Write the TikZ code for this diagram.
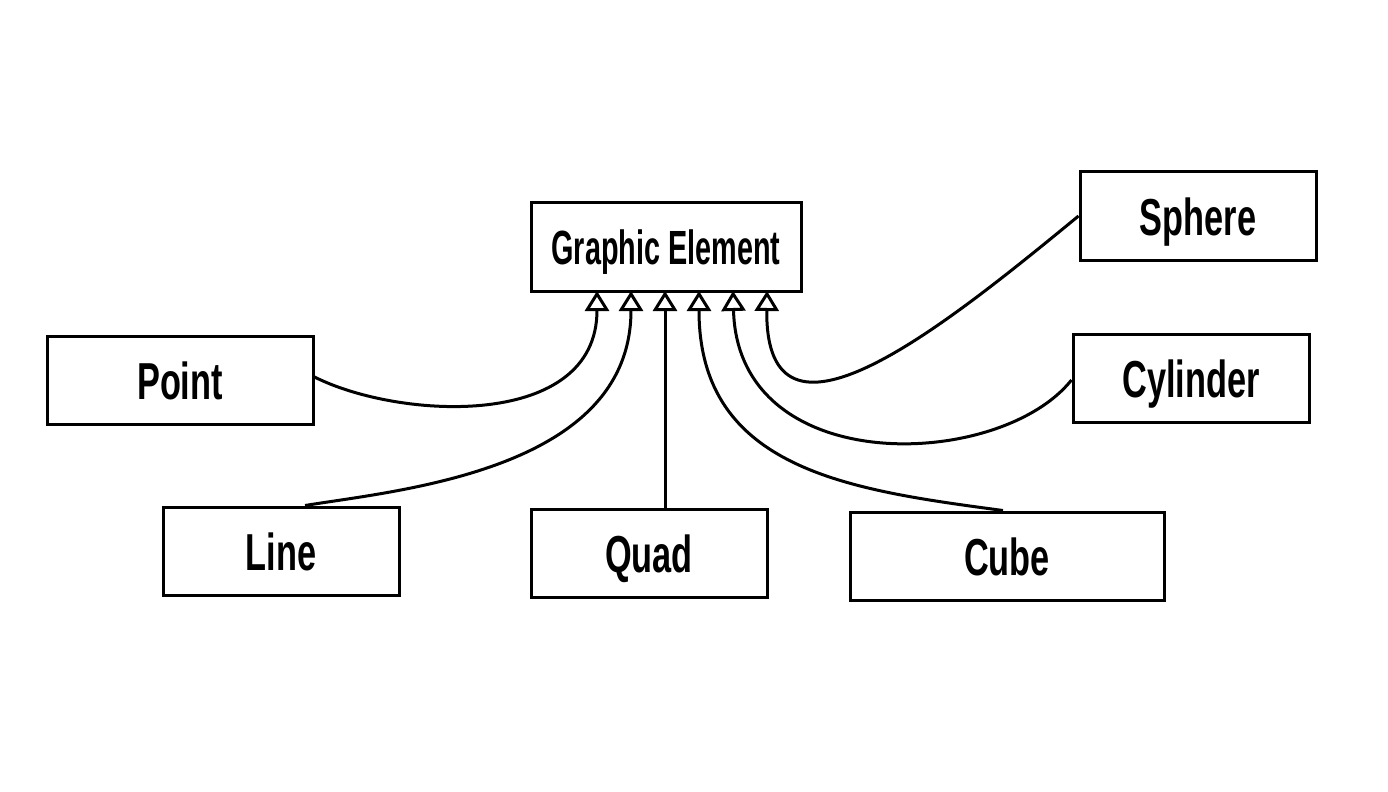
\documentclass[tikz,border=0pt]{standalone}
\usepackage{fontspec}
\usetikzlibrary{arrows.meta}
\newfontfamily\boxfont[FakeStretch=0.66]{Liberation Sans Bold}
\newfontfamily\titlefont[FakeStretch=0.6]{Liberation Sans Bold}
\tikzset{
    classbox/.style={
        draw,
        line width=1.5pt,
        minimum width=118pt,
        minimum height=44pt,
        inner sep=0pt,
        text height=19pt,
        text depth=0pt,
        font=\boxfont\fontsize{26}{30}\selectfont
    },
    inherit/.style={
        line width=1.5pt,
        -{Triangle[open,width=12pt,length=10pt]}
    }
}
\begin{document}
\begin{tikzpicture}[x=0.5pt, y=-0.5pt]
\fill[white] (0,0) rectangle (1388,792);
\useasboundingbox (0,0) rectangle (1388,792);

% base class
\node[classbox, minimum width=135pt, text height=17.5pt, font=\titlefont\fontsize{24}{28}\selectfont] (ge) at (666,247) {Graphic Element};

% subclasses
\node[classbox, minimum width=133pt] (point) at (180,380) {Point};
\node[classbox] (line) at (281,551) {Line};
\node[classbox] (quad) at (649,553) {Quad};
\node[classbox, minimum width=157pt] (cube) at (1007,556) {Cube};
\node[classbox] (sphere) at (1198,216) {Sphere};
\node[classbox] (cylinder) at (1191,378) {Cylinder};

% arrow heads along the bottom of the base class
\foreach \name/\x in {a/597, b/631, c/665, d/699, e/733, f/767}
    \coordinate (in\name) at (\x,291);

\draw[inherit] (point.east) ++(0,-3) .. controls (400,420) and (597,430) .. (ina);
\draw[inherit] (line.north) ++(24,0) .. controls (400,490) and (631,470) .. (inb);
\draw[inherit] (quad.north -| inc) -- (inc);
\draw[inherit] (cube.north) ++(-4,0) .. controls (850,490) and (699,470) .. (ind);
\draw[inherit] (cylinder.west) ++(0,2) .. controls (1000,470) and (738,480) .. (ine);
\draw[inherit] (sphere.west) .. controls (940,330) and (765,470) .. (inf);
\end{tikzpicture}
\end{document}
